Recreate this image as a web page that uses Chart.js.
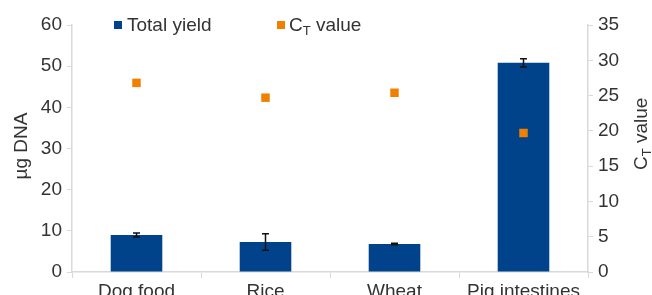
<!DOCTYPE html>
<html>
<head>
<meta charset="utf-8">
<script src="https://cdn.jsdelivr.net/npm/chart.js@4.4.0/dist/chart.umd.min.js"></script>
<style>
  html, body { margin: 0; padding: 0; background: #fff; }
  #wrap { width: 652px; height: 295px; }
</style>
</head>
<body>
<div id="wrap"><canvas id="dnaChart"></canvas></div>
<script>
// data
const categories = ['Dog food', 'Rice', 'Wheat', 'Pig intestines'];
const totalYield = [9.0, 7.3, 6.8, 50.8];
const yieldError = [0.5, 2.0, 0.2, 1.0];
const ctValue = [26.8, 24.7, 25.4, 19.7];
const yieldTicks = { min: 0, max: 60, step: 10 };
const ctTicks = { min: 0, max: 35, step: 5 };

const FONT = "'Liberation Sans', Arial, sans-serif";
const TEXT = '#333333';
const AXIS = '#d9d9d9';
const BLUE = '#00438a';
const ORANGE = '#f08000';

// error bars on the yield bars
const errorBars = {
    id: 'errorBars',
    afterDatasetsDraw(chart) {
        const meta = chart.getDatasetMeta(1);
        const y = chart.scales.y;
        const ctx = chart.ctx;
        ctx.save();
        ctx.strokeStyle = '#111';
        ctx.lineWidth = 1.5;
        meta.data.forEach(function (bar, i) {
            const v = totalYield[i], e = yieldError[i];
            const top = y.getPixelForValue(v + e);
            const bot = y.getPixelForValue(v - e);
            ctx.beginPath();
            ctx.moveTo(bar.x, top); ctx.lineTo(bar.x, bot);
            ctx.moveTo(bar.x - 3.5, top); ctx.lineTo(bar.x + 3.5, top);
            ctx.moveTo(bar.x - 3.5, bot); ctx.lineTo(bar.x + 3.5, bot);
            ctx.stroke();
        });
        ctx.restore();
    }
};

// legend and axis titles (subscript T needs hand drawing)
function drawCt(ctx, x, y, size) {
    ctx.font = size + 'px ' + FONT;
    ctx.fillText('C', x, y);
    let w = ctx.measureText('C').width;
    ctx.font = Math.round(size * 0.68) + 'px ' + FONT;
    ctx.fillText('T', x + w, y + size * 0.22);
    w += ctx.measureText('T').width;
    ctx.font = size + 'px ' + FONT;
    ctx.fillText(' value', x + w, y);
    return w + ctx.measureText(' value').width;
}

const labels = {
    id: 'labels',
    afterDraw(chart) {
        const ctx = chart.ctx;
        ctx.save();
        ctx.fillStyle = TEXT;
        ctx.textBaseline = 'alphabetic';
        ctx.textAlign = 'left';

        // legend
        ctx.fillStyle = BLUE;
        ctx.fillRect(114, 21, 8, 8);
        ctx.fillStyle = TEXT;
        ctx.font = '19px ' + FONT;
        ctx.fillText('Total yield', 127, 31);
        ctx.fillStyle = ORANGE;
        ctx.fillRect(277, 21, 8, 8);
        ctx.fillStyle = TEXT;
        drawCt(ctx, 289, 31, 19);

        // left title
        ctx.save();
        ctx.translate(27, 146);
        ctx.rotate(-Math.PI / 2);
        ctx.textAlign = 'center';
        ctx.font = '19px ' + FONT;
        ctx.fillText('µg DNA', 0, 0);
        ctx.restore();

        // right title
        ctx.save();
        ctx.translate(647, 170);
        ctx.rotate(-Math.PI / 2);
        drawCt(ctx, 0, 0, 19);
        ctx.restore();

        ctx.restore();
    }
};

const tickFont = { family: FONT, size: 19 };

new Chart(document.getElementById('dnaChart'), {
    data: {
        labels: categories,
        datasets: [{
            type: 'line',
            label: 'CT value',
            data: ctValue,
            yAxisID: 'y2',
            showLine: false,
            pointStyle: 'rect',
            pointRadius: 6,
            pointBackgroundColor: ORANGE,
            pointBorderWidth: 0,
            order: 1
        }, {
            type: 'bar',
            label: 'Total yield',
            data: totalYield,
            yAxisID: 'y',
            backgroundColor: BLUE,
            barPercentage: 0.4,
            categoryPercentage: 1,
            order: 2
        }]
    },
    options: {
        responsive: true,
        maintainAspectRatio: false,
        animation: false,
        layout: { padding: { top: 25, left: 0, right: 0, bottom: 0 } },
        plugins: { legend: { display: false }, tooltip: { enabled: false } },
        scales: {
            x: {
                offset: true,
                grid: { offset: true, drawOnChartArea: false, tickLength: 6, color: AXIS },
                border: { color: AXIS, width: 1.5 },
                ticks: { font: tickFont, color: TEXT, padding: 2, maxRotation: 0 },
                afterFit: function (s) { s.height = 23; }
            },
            y: {
                position: 'left',
                min: yieldTicks.min, max: yieldTicks.max,
                grid: { drawOnChartArea: false, tickLength: 5, color: AXIS },
                border: { color: AXIS, width: 1.5 },
                ticks: { stepSize: yieldTicks.step, font: tickFont, color: TEXT, padding: 5 },
                afterFit: function (s) { s.width = 72; }
            },
            y2: {
                position: 'right',
                min: ctTicks.min, max: ctTicks.max,
                grid: { drawOnChartArea: false, tickLength: 5, color: AXIS },
                border: { color: AXIS, width: 1.5 },
                ticks: { stepSize: ctTicks.step, font: tickFont, color: TEXT, padding: 5 },
                afterFit: function (s) { s.width = 64; }
            }
        }
    },
    plugins: [errorBars, labels]
});
</script>
</body>
</html>
